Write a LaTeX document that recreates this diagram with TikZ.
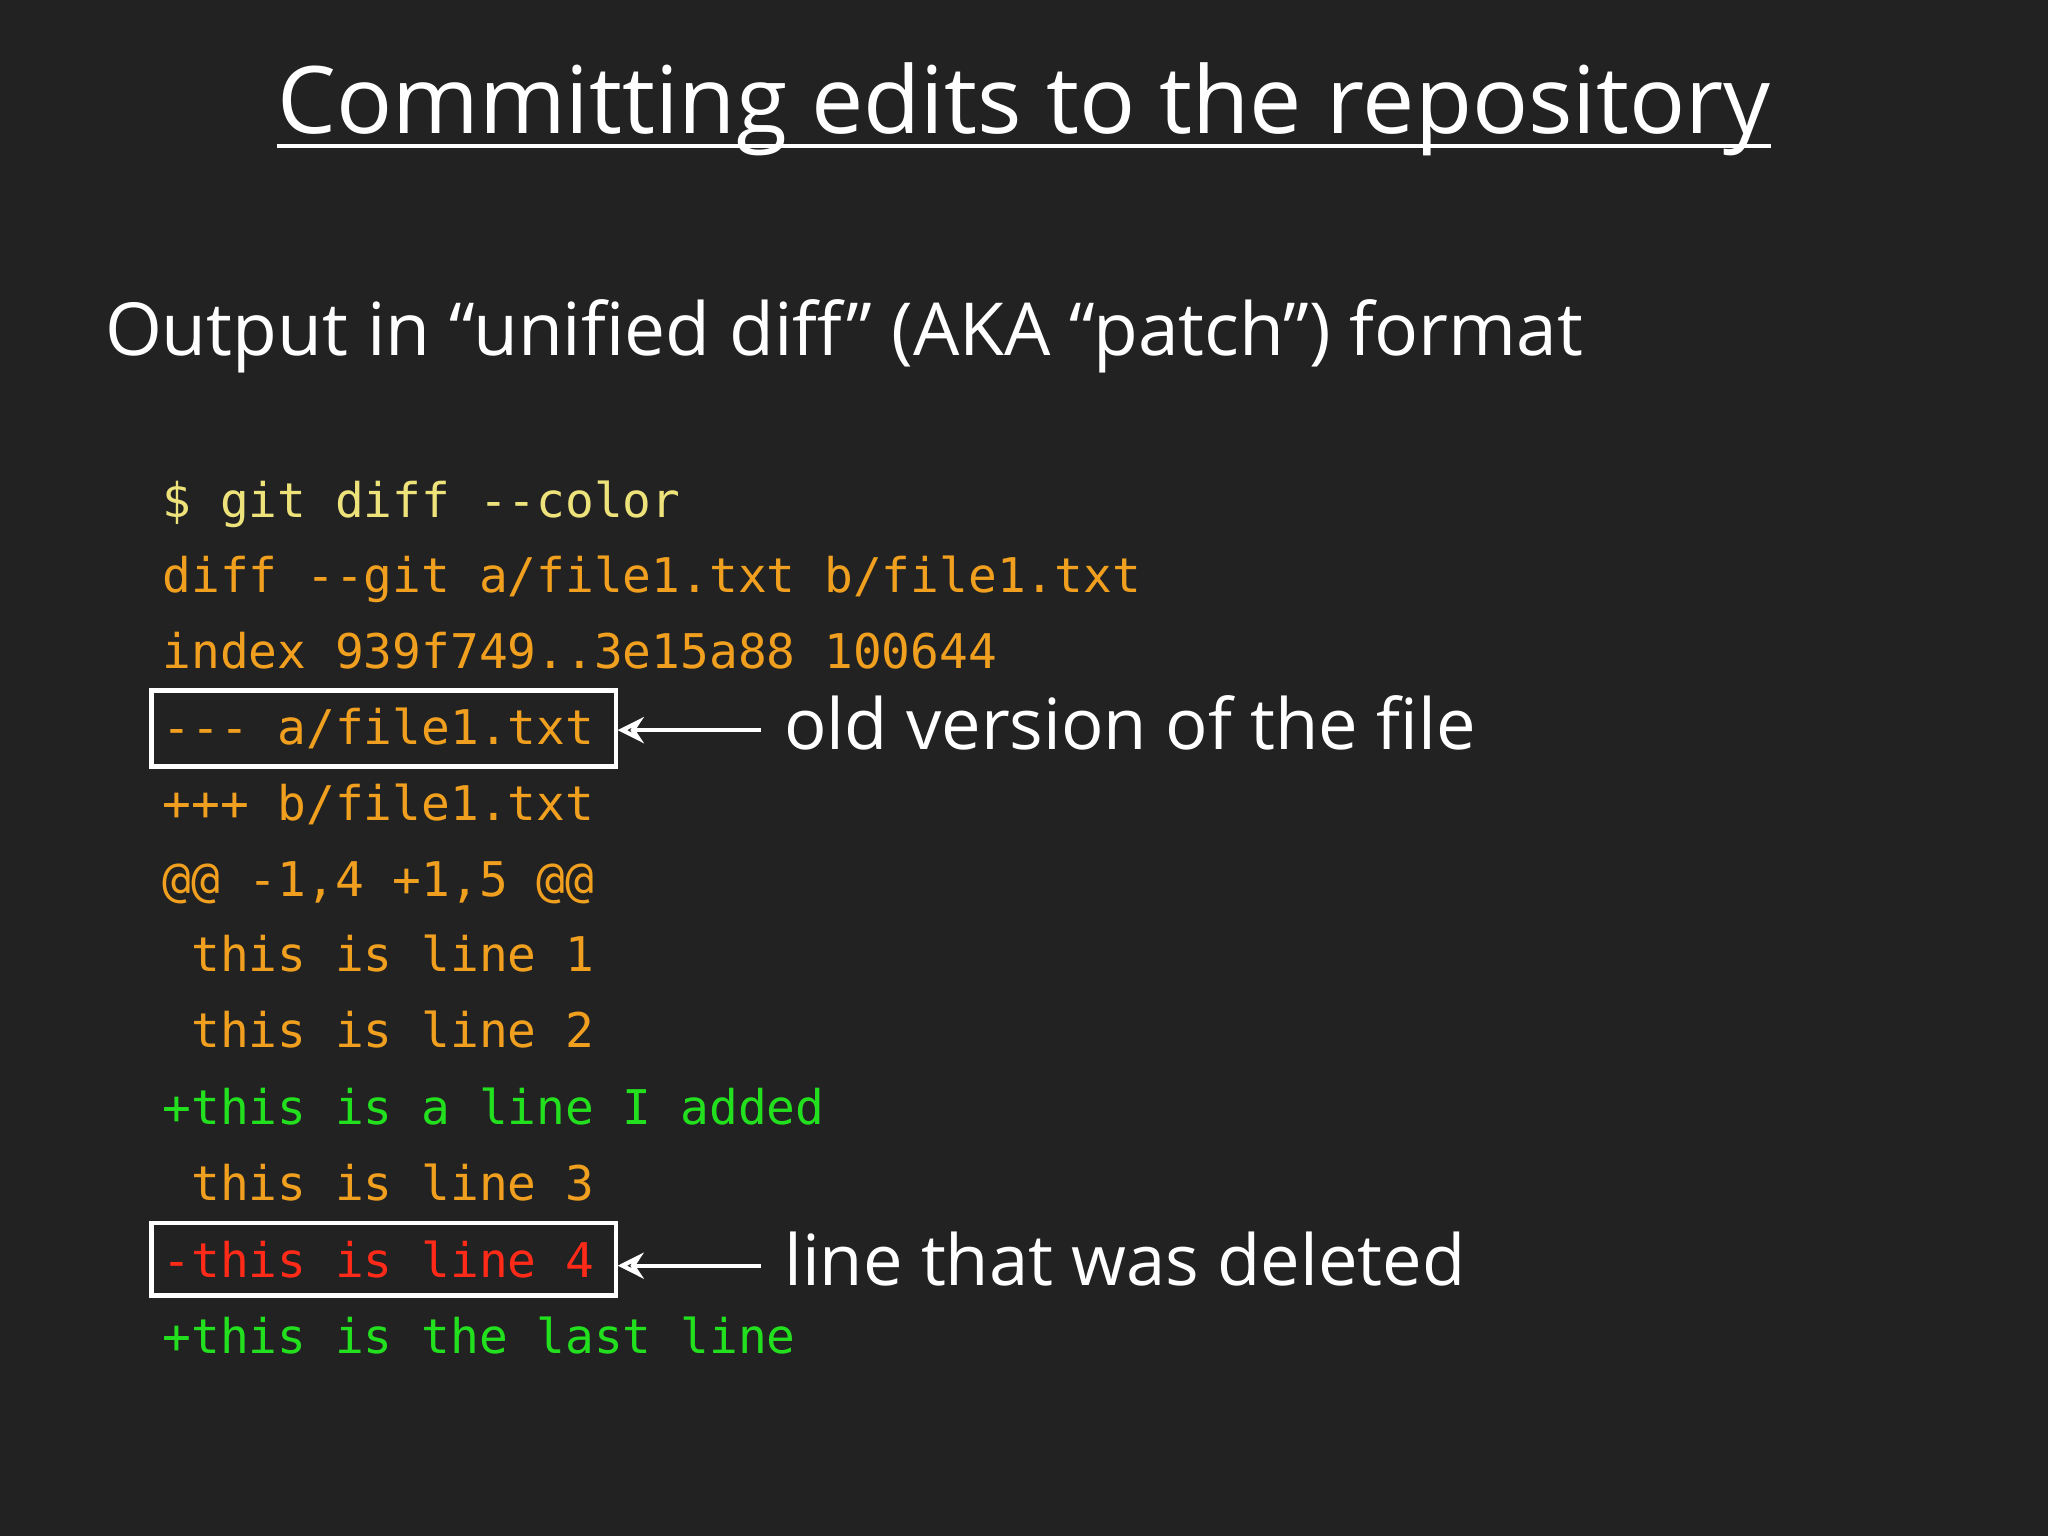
\documentclass[tikz,border=0pt]{standalone}
\usepackage{fontspec}
\setmainfont{Open Sans}
\setmonofont{DejaVu Sans Mono}
\usetikzlibrary{fit,arrows.meta}
\definecolor{bg}{HTML}{222223}
\definecolor{cyel}{HTML}{EEE27A}
\definecolor{corg}{HTML}{F0A01E}
\definecolor{cgrn}{HTML}{22E01E}
\definecolor{cred}{HTML}{FF2A18}
\tikzset{
 code/.style={anchor=base west,inner sep=0pt,font=\ttfamily\fontsize{18.3}{20}\selectfont},
 box/.style={draw=white,line width=1.6pt,inner xsep=4pt,inner ysep=6.5pt},
 note/.style={anchor=base west,inner sep=0pt,text=white,font=\fontsize{27}{30}\selectfont},
 arr/.style={draw=white,line width=1.6pt,-{Stealth[length=10pt,width=10pt,open]}}
}
\begin{document}
\begin{tikzpicture}[x=0.5pt,y=-0.5pt]
\fill[bg] (0,0) rectangle (1568,1176);
\useasboundingbox (0,0) rectangle (1568,1176);
\node[anchor=base,inner sep=0pt,text=white,font=\fontsize{35.7}{40}\selectfont] (title) at (784,102) {Committing edits to the repository};
\draw[white,line width=1.5pt] ([yshift=-5pt]title.base west) -- ([yshift=-5pt]title.base east);
\node[anchor=base west,inner sep=0pt,text=white,font=\fontsize{28}{30}\selectfont] (sub) at (80,272) {Output in “unified diff” (AKA “patch”) format};
\node[code,text=cyel] (l1) at (124,396) {\$ git diff --color};
\node[code,text=corg] (l2) at (124,454) {diff --git a/file1.txt b/file1.txt};
\node[code,text=corg] (l3) at (124,512) {index 939f749..3e15a88 100644};
\node[code,text=corg] (l4) at (124,570) {--- a/file1.txt};
\node[code,text=corg] (l5) at (124,628) {+++ b/file1.txt};
\node[code,text=corg] (l6) at (124,686) {@@ -1,4 +1,5 @@};
\node[code,text=corg] (l7) at (124,744) {\ this is line 1};
\node[code,text=corg] (l8) at (124,802) {\ this is line 2};
\node[code,text=cgrn] (l9) at (124,861) {+this is a line I added};
\node[code,text=corg] (l10) at (124,919) {\ this is line 3};
\node[code,text=cred] (l11) at (124,978) {-this is line 4};
\node[code,text=cgrn] (l12) at (124,1036) {+this is the last line};
\coordinate (e1) at ([xshift=4pt]l4.east);
\coordinate (e2) at ([xshift=4pt]l11.east);
\node[box,fit=(l4)(e1)] (b1) {};
\node[box,fit=(l11)(e2)] (b2) {};
\node[note] (n1) at (600,574) {old version of the file};
\node[note] (n2) at (600,984) {line that was deleted};
\coordinate (a1) at (583,559);
\coordinate (a2) at (583,969);
\draw[arr] (a1) -- (b1.east|-a1);
\draw[arr] (a2) -- (b2.east|-a2);
\end{tikzpicture}
\end{document}
